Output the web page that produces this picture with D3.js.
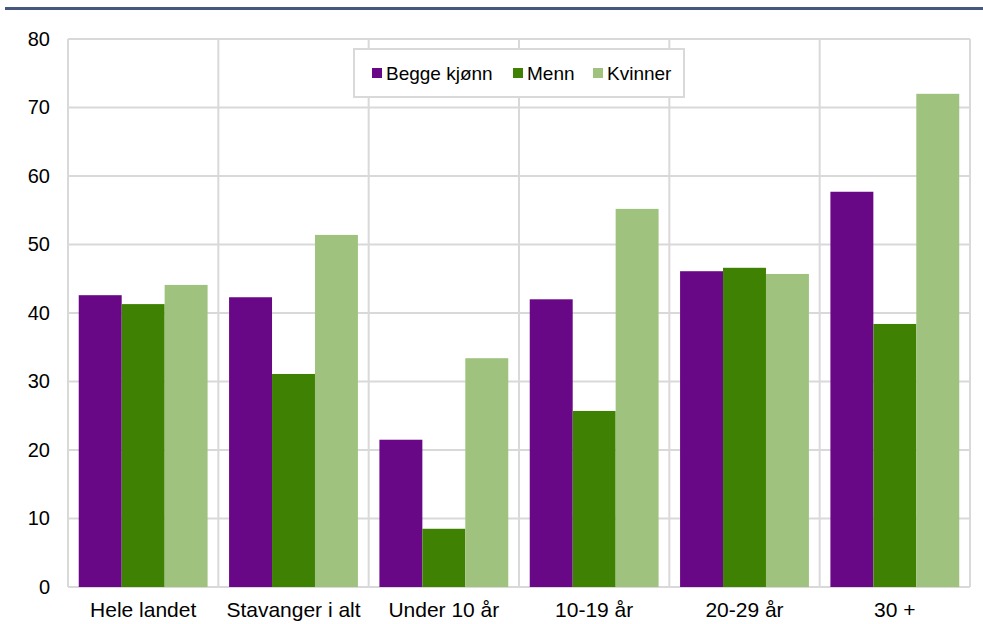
<!DOCTYPE html>
<html>
<head>
<meta charset="utf-8">
<script src="https://cdn.jsdelivr.net/npm/d3@7"></script>
<style>
  html, body { margin: 0; padding: 0; background: #fff; }
  svg { display: block; font-family: "Liberation Sans", Arial, sans-serif; }
</style>
</head>
<body>
<svg id="chart" width="983" height="624"></svg>
<script>
const categories = ["Hele landet", "Stavanger i alt", "Under 10 år", "10-19 år", "20-29 år", "30 +"];
const seriesNames = ["Begge kjønn", "Menn", "Kvinner"];
const beggeKjonn = [42.6, 42.3, 21.5, 42.0, 46.1, 57.7];
const menn = [41.3, 31.1, 8.5, 25.7, 46.6, 38.4];
const kvinner = [44.1, 51.4, 33.4, 55.2, 45.7, 72.0];
const yTicks = [0, 10, 20, 30, 40, 50, 60, 70, 80];
const colors = ["#690886", "#3f8203", "#9fc37f"];

const seriesValues = [beggeKjonn, menn, kvinner];
const svg = d3.select("#chart");
const W = 983, H = 624;
const m = { left: 68, right: 970, top: 39, bottom: 587 };

// top rule
svg.append("rect").attr("x", 5).attr("y", 7).attr("width", W - 5).attr("height", 3).attr("fill", "#44587f");

const x0 = d3.scaleBand().domain(categories).range([m.left, m.right]).paddingInner(0).paddingOuter(0);
const x1 = d3.scaleBand().domain(seriesNames).range([0, x0.bandwidth()]).paddingInner(0).paddingOuter(0.25);
const y = d3.scaleLinear().domain([0, 80]).range([m.bottom, m.top]);

const grid = svg.append("g");
grid.selectAll("line.h").data(yTicks).join("line")
  .attr("x1", m.left).attr("x2", m.right)
  .attr("y1", d => y(d)).attr("y2", d => y(d))
  .attr("stroke", "#d9d9d9").attr("stroke-width", 2);
const bounds = categories.map(c => x0(c)).concat([m.right]);
grid.selectAll("line.v").data(bounds).join("line")
  .attr("x1", d => d).attr("x2", d => d)
  .attr("y1", m.top).attr("y2", m.bottom)
  .attr("stroke", "#d9d9d9").attr("stroke-width", 2);

// bars
const groups = svg.append("g").selectAll("g").data(categories).join("g")
  .attr("transform", c => `translate(${x0(c)},0)`);
groups.selectAll("rect").data((c, i) => seriesNames.map((s, j) => ({ s, j, v: seriesValues[j][i] })))
  .join("rect")
  .attr("x", d => x1(d.s))
  .attr("width", x1.bandwidth())
  .attr("y", d => y(d.v))
  .attr("height", d => y(0) - y(d.v))
  .attr("fill", d => colors[d.j]);

// y axis labels
const yAxis = d3.axisLeft(y).tickValues(yTicks).tickSize(0).tickPadding(18);
const ya = svg.append("g").attr("transform", `translate(${m.left},0)`).call(yAxis);
ya.select(".domain").remove();
ya.selectAll("text").attr("font-size", 20).attr("fill", "#000").attr("font-family", "Liberation Sans, Arial, sans-serif");

// x axis labels
const xAxis = d3.axisBottom(x0).tickSize(0).tickPadding(15);
const xa = svg.append("g").attr("transform", `translate(0,${m.bottom})`).call(xAxis);
xa.select(".domain").remove();
xa.selectAll("text").attr("font-size", 21).attr("fill", "#000").attr("font-family", "Liberation Sans, Arial, sans-serif");

// legend
const lg = svg.append("g");
lg.append("rect").attr("x", 354).attr("y", 49).attr("width", 330).attr("height", 48)
  .attr("fill", "#fff").attr("stroke", "#d9d9d9").attr("stroke-width", 2);
const legX = [372, 513, 593];
seriesNames.forEach((s, j) => {
  lg.append("rect").attr("x", legX[j]).attr("y", 68).attr("width", 10).attr("height", 10).attr("fill", colors[j]);
  lg.append("text").attr("x", legX[j] + 14).attr("y", 80).attr("font-size", 19).attr("fill", "#000").text(s);
});
</script>
</body>
</html>
